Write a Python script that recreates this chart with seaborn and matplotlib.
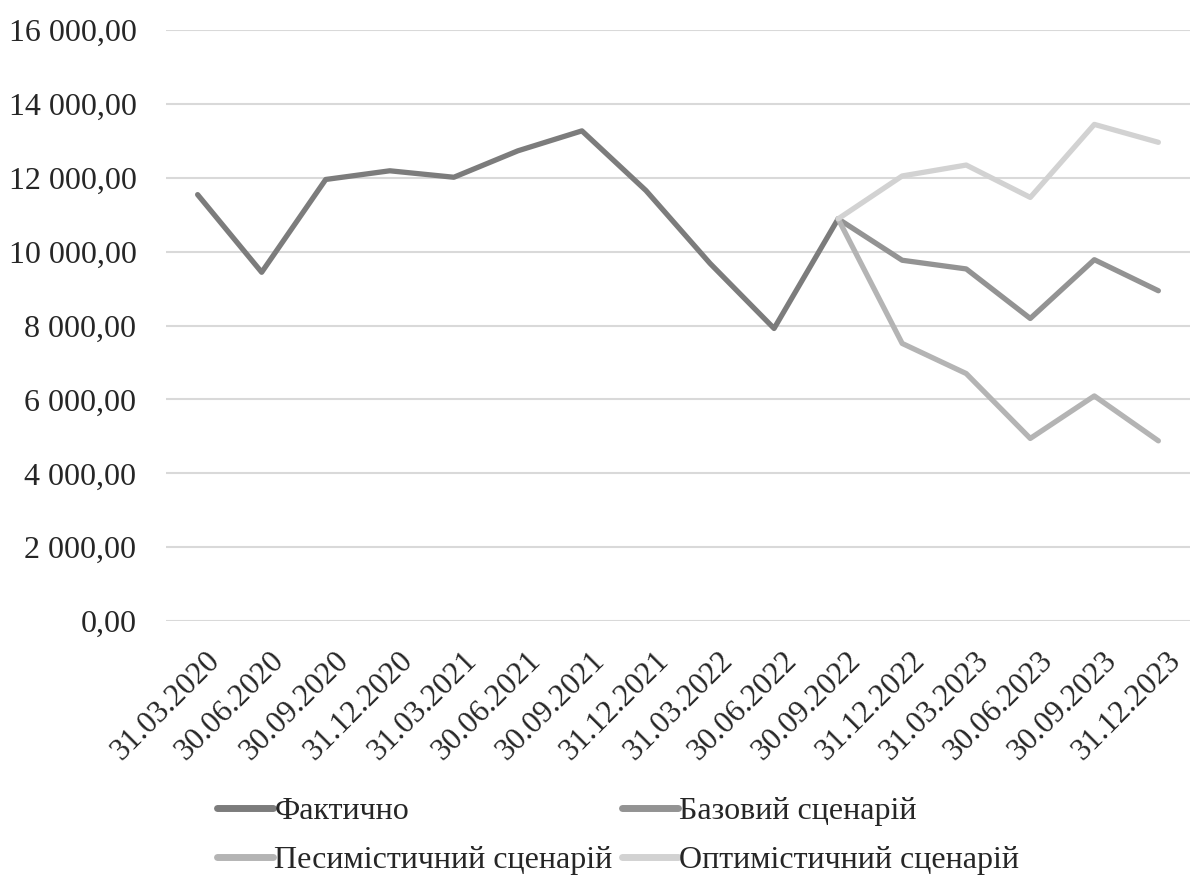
import numpy as np
import pandas as pd
import matplotlib
matplotlib.use("Agg")
import matplotlib.pyplot as plt
import matplotlib.transforms as mtransforms
from matplotlib.lines import Line2D
import seaborn as sns

dates = ["31.03.2020", "30.06.2020", "30.09.2020", "31.12.2020", "31.03.2021",
         "30.06.2021", "30.09.2021", "31.12.2021", "31.03.2022", "30.06.2022",
         "30.09.2022", "31.12.2022", "31.03.2023", "30.06.2023", "30.09.2023",
         "31.12.2023"]
fact = [11540, 9440, 11950, 12185, 12010, 12725, 13265, 11650, 9680, 7920, 10885]
base = [10885, 9765, 9530, 8190, 9780, 8940]
pess = [10885, 7515, 6700, 4945, 6095, 4880]
opt = [10885, 12045, 12340, 11465, 13440, 12955]

names = ["Фактично", "Базовий сценарій", "Песимістичний сценарій", "Оптимістичний сценарій"]
colors = ["#7c7c7c", "#939393", "#b4b4b4", "#d2d2d2"]

rows = []
for d, v in zip(dates[:len(fact)], fact):
    rows.append((d, v, names[0]))
start = len(fact) - 1
for series, name in zip([base, pess, opt], names[1:]):
    for d, v in zip(dates[start:], series):
        rows.append((d, v, name))
df = pd.DataFrame(rows, columns=["date", "value", "series"])
df["pos"] = df["date"].map({d: i for i, d in enumerate(dates)})

sns.set_theme(style="white")
plt.rcParams["font.family"] = ["Liberation Serif", "DejaVu Serif"]

fig = plt.figure(figsize=(12, 8.75), dpi=100)
ax = fig.add_axes([0.138, 0.29, 0.854, 0.676])

sns.lineplot(data=df, x="pos", y="value", hue="series", hue_order=names,
             palette=dict(zip(names, colors)), linewidth=3.8, ax=ax,
             sort=False, legend=False, solid_joinstyle="round", solid_capstyle="round")

ax.set_xlim(-0.5, len(dates) - 0.5)
ax.set_ylim(0, 16000)
yt = np.arange(0, 16001, 2000)
ax.set_yticks(yt)
ax.set_yticklabels([f"{int(v):,}".replace(",", " ") + ",00" for v in yt], fontsize=23)
ax.set_xticks(range(len(dates)))
ax.set_xticklabels(dates, rotation=45, ha="right", va="top", rotation_mode="anchor", fontsize=22.5)
ax.tick_params(axis="x", pad=8, length=0)
ax.tick_params(axis="y", pad=21, length=0)
offset = mtransforms.ScaledTranslation(0.08, -0.14, fig.dpi_scale_trans)
for lbl in ax.get_xticklabels():
    lbl.set_transform(lbl.get_transform() + offset)
ax.grid(axis="y", color="#d9d9d9", linewidth=1.5)
ax.set_axisbelow(True)
for s in ax.spines.values():
    s.set_visible(False)
ax.set_xlabel("")
ax.set_ylabel("")

handles = {n: Line2D([], [], color=c, linewidth=5, solid_capstyle="round") for n, c in zip(names, colors)}
order = [names[0], names[2], names[1], names[3]]
fig.legend([handles[n] for n in order], order, ncol=2, loc="center",
           bbox_to_anchor=(0.515, 0.0446), frameon=False, fontsize=23,
           handlelength=1.75, handletextpad=0.05, columnspacing=0.28,
           labelspacing=0.6)

fig.savefig("out.png", dpi=100)
